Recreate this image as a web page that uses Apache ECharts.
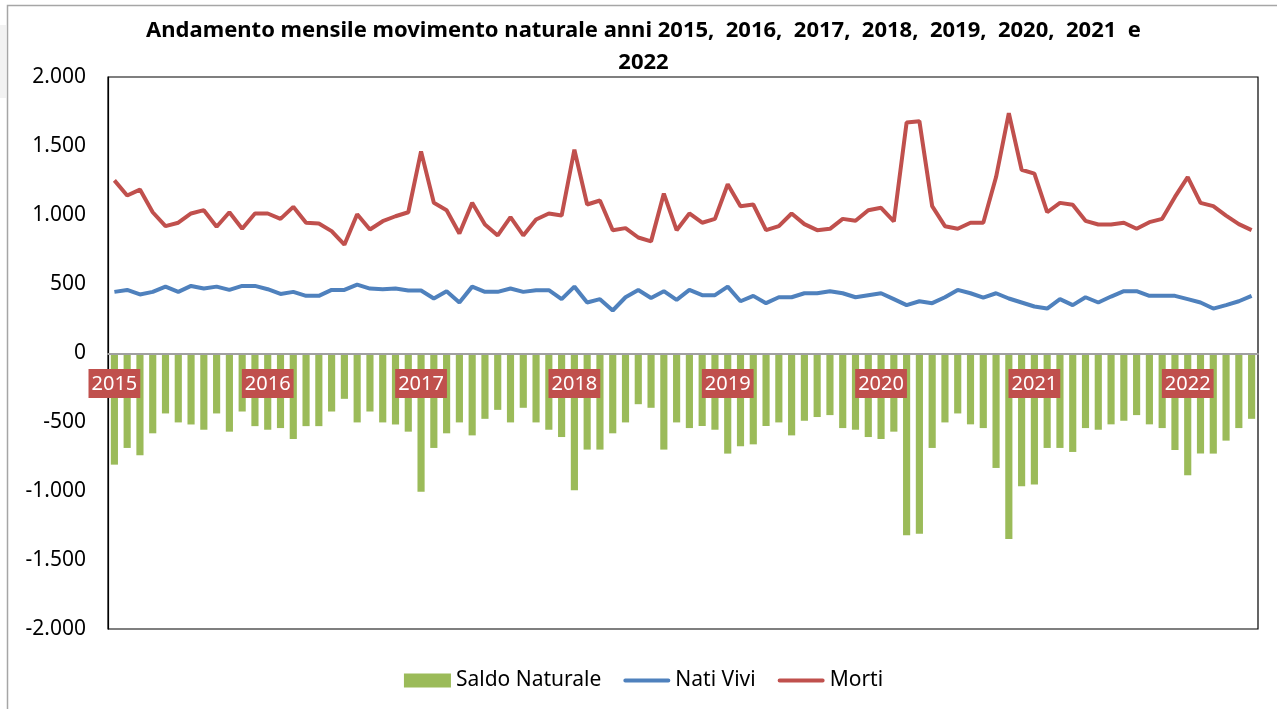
<!DOCTYPE html>
<html>
<head>
<meta charset="utf-8">
<script src="https://cdn.jsdelivr.net/npm/echarts@6/dist/echarts.min.js"></script>
<style>
  html, body { margin: 0; padding: 0; background: #fff; }
  #myecharts { width: 1287px; height: 709px; }
</style>
</head>
<body>
<div id="myecharts"></div>
<script>
// dati mensili gen 2015 - giu 2022
var years = ['2015', '2016', '2017', '2018', '2019', '2020', '2021', '2022'];
var monthNames = ['gen', 'feb', 'mar', 'apr', 'mag', 'giu', 'lug', 'ago', 'set', 'ott', 'nov', 'dic'];
var monthsShown = 90;

var saldoNaturale = [
  -809, -688, -741, -582, -438, -503, -518, -556, -438, -570, -424, -530,
  -556, -544, -623, -530, -530, -424, -332, -503, -424, -503, -518, -570,
  -1006, -688, -582, -503, -597, -477, -412, -503, -397, -503, -556, -609,
  -994, -700, -700, -582, -503, -371, -397, -700, -503, -544, -529, -556,
  -729, -676, -662, -529, -503, -597, -491, -464, -450, -544, -556, -609,
  -623, -570, -1321, -1309, -688, -503, -438, -517, -544, -833, -1348, -965,
  -953, -688, -688, -717, -544, -556, -517, -491, -450, -517, -544, -703,
  -886, -729, -729, -635, -544, -477
];
var natiVivi = [
  443, 457, 424, 443, 481, 443, 486, 467, 481, 457, 486, 486,
  462, 428, 443, 414, 414, 457, 457, 496, 467, 462, 467, 453,
  453, 395, 448, 366, 481, 443, 443, 467, 443, 455, 455, 390,
  481, 366, 390, 308, 404, 457, 399, 448, 385, 457, 419, 419,
  481, 375, 414, 361, 404, 404, 433, 433, 448, 433, 404, 419,
  433, 390, 347, 375, 361, 404, 457, 433, 402, 433, 395, 366,
  337, 322, 390, 347, 404, 366, 409, 448, 448, 414, 414, 414,
  390, 366, 322, 347, 375, 414
];
var morti = [
  1251, 1141, 1184, 1020, 919, 944, 1011, 1035, 915, 1020, 900, 1011,
  1011, 972, 1059, 944, 939, 883, 785, 1006, 895, 955, 991, 1020,
  1461, 1088, 1035, 866, 1088, 931, 852, 984, 852, 967, 1011, 996,
  1473, 1076, 1105, 890, 905, 837, 809, 1155, 890, 1011, 944, 972,
  1223, 1064, 1076, 890, 919, 1011, 934, 890, 900, 972, 958, 1035,
  1052, 953, 1670, 1680, 1064, 919, 900, 944, 944, 1275, 1738, 1328,
  1300, 1020, 1088, 1074, 958, 931, 931, 944, 900, 948, 972, 1131,
  1275, 1088, 1064, 996, 934, 890
];

var categories = [];
for (var i = 0; i < monthsShown; i++) {
  categories.push(monthNames[i % 12] + ' ' + years[Math.floor(i / 12)]);
}

function fmtIt(v) {
  // separatore delle migliaia all'italiana
  var s = String(Math.abs(v)).replace(/\B(?=(\d{3})+(?!\d))/g, '.');
  return (v < 0 ? '-' : '') + s;
}

var myChart = echarts.init(document.getElementById('myecharts'));
var font = 'Noto Sans';
var lineIcon = 'path://M2,0 L46,0 A2,2 0 0 1 46,4 L2,4 A2,2 0 0 1 2,0 Z';

var option = {
  backgroundColor: '#fff',
  textStyle: { fontFamily: font },
  animation: false,
  title: {
    text: 'Andamento mensile movimento naturale anni 2015,  2016,  2017,  2018,  2019,  2020,  2021  e\n2022',
    left: 'center',
    top: 10,
    textStyle: { fontFamily: font, fontSize: 22, fontWeight: 'bold', color: '#000', lineHeight: 32 }
  },
  graphic: [
    { type: 'rect', shape: { x: 0, y: 25, width: 6, height: 73 }, style: { fill: '#f2f2f2' }, silent: true },
    { type: 'polyline', shape: { points: [[7.5, 709], [7.5, 5.5], [1277, 5.5]] }, style: { stroke: '#a6a6a6', lineWidth: 1.5, fill: null }, silent: true }
  ],
  legend: {
    bottom: 13,
    left: 'center',
    itemGap: 22,
    itemWidth: 47,
    itemHeight: 14,
    textStyle: { fontFamily: font, fontSize: 21, color: '#000' },
    data: [
      { name: 'Saldo Naturale', icon: 'rect' },
      { name: 'Nati Vivi', icon: lineIcon },
      { name: 'Morti', icon: lineIcon }
    ]
  },
  grid: {
    left: 108,
    right: 29,
    top: 77,
    bottom: 80,
    show: true,
    borderColor: '#000',
    borderWidth: 1.2,
    containLabel: false
  },
  xAxis: {
    type: 'category',
    data: categories,
    z: 10,
    offset: -275,
    axisLine: { onZero: false, lineStyle: { color: '#a0a0a0', width: 2 } },
    axisTick: { show: false },
    splitLine: { show: false },
    axisLabel: {
      interval: function (idx) { return idx % 12 === 0; },
      formatter: function (val, idx) { return years[Math.floor(idx / 12)]; },
      margin: 15,
      color: '#fff',
      fontFamily: font,
      fontSize: 20,
      backgroundColor: '#C0504D',
      padding: [5, 3, 4, 3],
      hideOverlap: false
    }
  },
  yAxis: {
    type: 'value',
    min: -2000,
    max: 2000,
    interval: 500,
    axisLine: { show: true, lineStyle: { color: '#000', width: 1.2 } },
    axisTick: { show: false },
    splitLine: { show: false },
    axisLabel: {
      formatter: fmtIt,
      color: '#000',
      fontFamily: font,
      fontSize: 21,
      margin: 22
    }
  },
  series: [
    {
      name: 'Saldo Naturale',
      type: 'bar',
      data: saldoNaturale,
      barWidth: '56%',
      itemStyle: { color: '#9BBB59' }
    },
    {
      name: 'Nati Vivi',
      type: 'line',
      data: natiVivi,
      symbol: 'none',
      lineStyle: { color: '#4F81BD', width: 4 },
      itemStyle: { color: '#4F81BD' }
    },
    {
      name: 'Morti',
      type: 'line',
      data: morti,
      symbol: 'none',
      lineStyle: { color: '#C0504D', width: 4 },
      itemStyle: { color: '#C0504D' }
    }
  ]
};

myChart.setOption(option);
</script>
</body>
</html>
